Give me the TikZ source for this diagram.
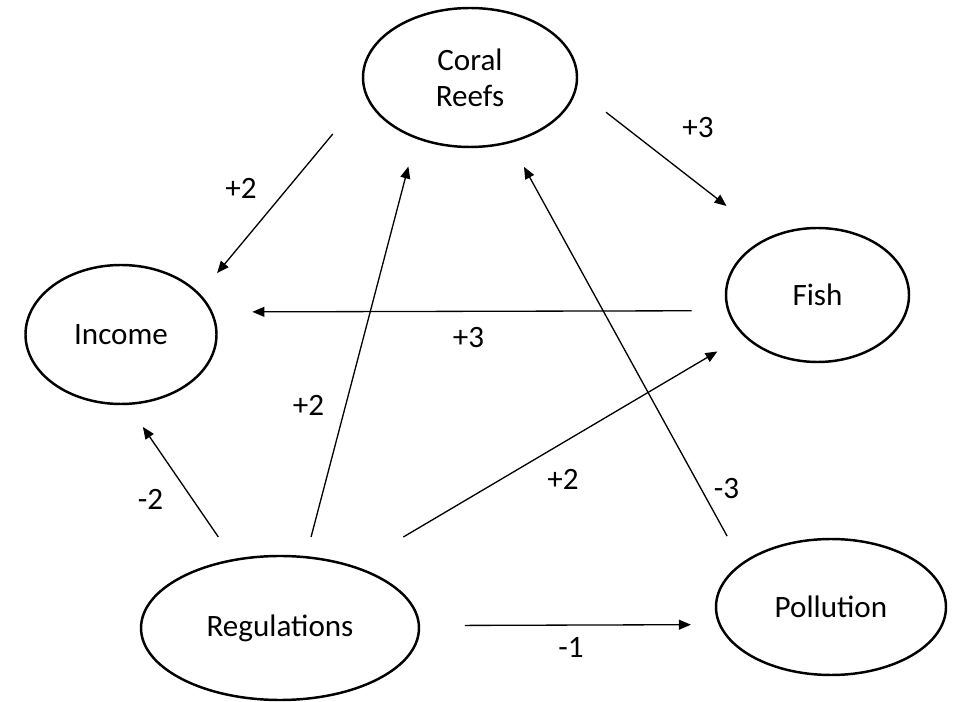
\documentclass[tikz,border=0pt]{standalone}
\usepackage{fontspec}
\setmainfont{Carlito}
\usetikzlibrary{shapes.geometric}
\usetikzlibrary{arrows.meta}

\begin{document}
\begin{tikzpicture}[
	factor/.style={draw,ellipse,line width=1.4pt,inner sep=0pt,outer sep=0pt,align=center,font=\fontsize{17.7}{20.5}\selectfont},
	link/.style={-{Triangle[length=6.8pt,width=5.6pt]},line width=0.75pt},
	weight/.style={inner sep=0pt,font=\fontsize{17.7}{20.5}\selectfont}]
	\useasboundingbox (0,0) rectangle (19.16,-14.04);
	
	%factors
	\node[factor,minimum width=4.28cm,minimum height=2.78cm] (N_Coral) at (9.40,-1.55) {Coral\\Reefs};
	\node[factor,minimum width=3.82cm,minimum height=2.78cm] (N_Income) at (2.42,-6.69) {Income};
	\node[factor,minimum width=3.66cm,minimum height=2.68cm] (N_Fish) at (16.35,-5.90) {Fish};
	\node[factor,minimum width=5.56cm,minimum height=2.88cm] (N_Reg) at (5.60,-12.56) {Regulations};
	\node[factor,minimum width=4.60cm,minimum height=2.72cm] (N_Poll) at (16.62,-12.14) {Pollution};
	
	%links
	\draw[link,shorten <=1.04cm,shorten >=0.56cm] (N_Coral.189.7) -- (N_Income.27.2);
	\draw[link,shorten <=0.77cm,shorten >=1.06cm] (N_Coral.354.2) -- (N_Fish.131.5);
	\draw[link,shorten <=0.74cm,shorten >=0.82cm] (N_Fish.190.5) -- (N_Income.14.3);
	\draw[link,shorten <=0.42cm,shorten >=0.60cm] (N_Reg.70.9) -- (N_Coral.228.6);
	\draw[link,shorten <=0.63cm,shorten >=0.57cm] (N_Poll.154.8) -- (N_Coral.302.0);
	\draw[link,shorten <=1.17cm,shorten >=0.63cm] (N_Reg.40.2) -- (N_Fish.209.6);
	\draw[link,shorten <=0.56cm,shorten >=0.56cm] (N_Reg.124.9) -- (N_Income.275.3);
	\draw[link,shorten <=0.92cm,shorten >=0.58cm] (N_Reg.1.2) -- (N_Poll.189.2);
	
	%weights
	\node[weight] (W_CI) at (4.82,-3.76) {+2};
	\node[weight] (W_CF) at (13.96,-2.56) {+3};
	\node[weight] (W_FI) at (9.37,-6.76) {+3};
	\node[weight] (W_RC) at (6.17,-8.10) {+2};
	\node[weight] (W_RI) at (3.01,-9.98) {-2};
	\node[weight] (W_RF) at (11.26,-9.58) {+2};
	\node[weight] (W_PC) at (14.53,-9.78) {-3};
	\node[weight] (W_RP) at (11.42,-12.94) {-1};
\end{tikzpicture}
\end{document}
